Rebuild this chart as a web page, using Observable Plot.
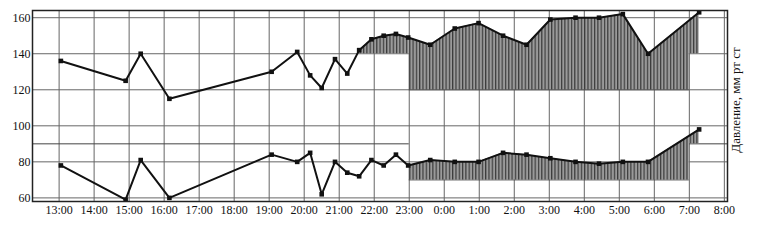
<!DOCTYPE html>
<html><head><meta charset="utf-8">
<script src="https://cdn.jsdelivr.net/npm/d3@7"></script>
<script src="https://cdn.jsdelivr.net/npm/@observablehq/plot@0.6"></script>
<style>html,body{margin:0;padding:0;background:#fff;} #chart svg{display:block;}</style>
</head><body><div id="chart"></div>
<script>
// Measurement times in hours (continuous; 24 = 0:00 next day)
const times = [13.05, 14.9, 15.33, 16.15, 19.07, 19.8, 20.17, 20.5, 20.88, 21.23, 21.57, 21.92, 22.27, 22.62, 22.97, 23.6, 24.3, 24.98, 25.68, 26.35, 27.03, 27.75, 28.42, 29.1, 29.82, 31.28];
const systolic = [136, 125, 140, 115, 130, 141, 128, 121, 137, 129, 142, 148, 150, 151, 149, 145, 154, 157, 150, 145, 159, 160, 160, 162, 140, 163];
const diastolic = [78, 59, 81, 60, 84, 80, 85, 62, 80, 74, 72, 81, 78, 84, 78, 81, 80, 80, 85, 84, 82, 80, 79, 80, 80, 98];
const yTicks = [60, 80, 100, 120, 140, 160];
const hourTicks = d3.range(13, 33);
const hourLabels = hourTicks.map(h => (h % 24) + ":00");
const nightStart = 23, nightEnd = 31;
const thresholds = {systolic: {day: 140, night: 120}, diastolic: {day: 90, night: 70}};
const axisLabel = "Давление, мм рт ст";
const xDomain = [12.24, 32.09];
const yDomain = [58, 164];

function interp(vals, t) {
  for (let i = 0; i < times.length - 1; i++) {
    if (t >= times[i] && t <= times[i + 1]) {
      const f = (t - times[i]) / (times[i + 1] - times[i]);
      return vals[i] + f * (vals[i + 1] - vals[i]);
    }
  }
  return null;
}

function shading(vals, thr, name) {
  const tEnd = times[times.length - 1];
  const periods = [
    [times[0], nightStart, thr.day],
    [nightStart, nightEnd, thr.night],
    [nightEnd, tEnd, thr.day]
  ];
  const out = [];
  periods.forEach(([a, b, T], pi) => {
    const pts = [{t: a, v: interp(vals, a)}];
    times.forEach((t, i) => { if (t > a && t < b) pts.push({t, v: vals[i]}); });
    pts.push({t: b, v: interp(vals, b)});
    const full = [];
    for (let i = 0; i < pts.length; i++) {
      if (i > 0) {
        const p = pts[i - 1], q = pts[i];
        if ((p.v - T) * (q.v - T) < 0) {
          const f = (T - p.v) / (q.v - p.v);
          full.push({t: p.t + f * (q.t - p.t), v: T});
        }
      }
      full.push(pts[i]);
    }
    full.forEach(d => out.push({t: d.t, v: Math.max(d.v, T), T, key: name + pi}));
  });
  return out;
}

const sysData = times.map((t, i) => ({t, v: systolic[i]}));
const diaData = times.map((t, i) => ({t, v: diastolic[i]}));
const shade = [...shading(systolic, thresholds.systolic, "s"), ...shading(diastolic, thresholds.diastolic, "d")];

const thrLines = [
  {x1: xDomain[0], x2: nightStart, y: thresholds.diastolic.day},
  {x1: nightEnd, x2: xDomain[1], y: thresholds.diastolic.day},
  {x1: nightStart, x2: nightEnd, y: thresholds.diastolic.night},
  {x1: nightStart, x2: nightEnd, y: thresholds.systolic.night}
];

const chart = Plot.plot({
  width: 763, height: 246,
  marginLeft: 32, marginRight: 36, marginTop: 10, marginBottom: 45,
  style: {fontFamily: "'Liberation Serif', serif", fontSize: "12px", color: "#111", background: "#fff"},
  x: {domain: xDomain},
  y: {domain: yDomain},
  marks: [
    Plot.ruleY(yTicks, {stroke: "#666", strokeWidth: 1}),
    Plot.ruleX(hourTicks, {stroke: "#666", strokeWidth: 1}),
    Plot.ruleY(thrLines, {x1: "x1", x2: "x2", y: "y", stroke: "#444", strokeWidth: 1}),
    Plot.areaY(shade, {x: "t", y1: "T", y2: "v", z: "key", fill: "url(#hatch)", curve: "linear"}),
    Plot.line(sysData, {x: "t", y: "v", stroke: "#111", strokeWidth: 2}),
    Plot.line(diaData, {x: "t", y: "v", stroke: "#111", strokeWidth: 2}),
    Plot.dot(sysData, {x: "t", y: "v", symbol: "square", r: 2.6, fill: "#111"}),
    Plot.dot(diaData, {x: "t", y: "v", symbol: "square", r: 2.6, fill: "#111"}),
    Plot.frame({stroke: "#222", strokeWidth: 1.5}),
    Plot.axisX({ticks: hourTicks, tickFormat: d => hourLabels[hourTicks.indexOf(d)], tickSize: 0, tickPadding: 4, label: null}),
    Plot.axisY({ticks: yTicks, tickSize: 0, tickPadding: 2, label: null})
  ]
});

const svg = d3.select(chart);
const defs = svg.insert("defs", ":first-child");
const pat = defs.append("pattern").attr("id", "hatch").attr("patternUnits", "userSpaceOnUse").attr("width", 3.3).attr("height", 10);
pat.append("rect").attr("width", 3.3).attr("height", 10).attr("fill", "#9a9a9a");
pat.append("line").attr("x1", 0.6).attr("x2", 0.6).attr("y1", 0).attr("y2", 10).attr("stroke", "#3c3c3c").attr("stroke-width", 1.2);
svg.append("text").attr("transform", "translate(737,100) rotate(-90)").attr("text-anchor", "middle").attr("dominant-baseline", "middle")
  .attr("font-family", "'Liberation Serif', serif").attr("font-size", 13).attr("fill", "#111").text(axisLabel);
document.getElementById("chart").appendChild(chart);
</script></body></html>
